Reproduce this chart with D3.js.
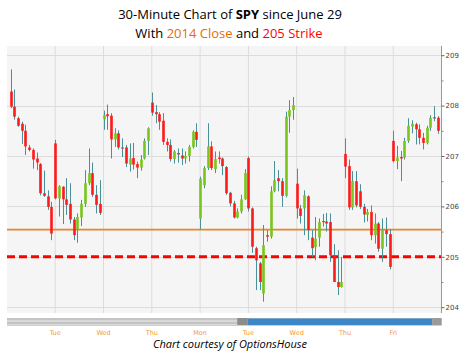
<!DOCTYPE html>
<html><head><meta charset="utf-8">
<script src="https://cdn.jsdelivr.net/npm/d3@7"></script>
<style>html,body{margin:0;padding:0;background:#fff;}svg{display:block;}</style>
</head><body>
<script>
// ---- data ----
const firstBar = 1; // Mon 10:00 bar (9:30 bar hidden at left edge)
const dayLabels = ["Tue","Wed","Thu","Mon","Tue","Wed","Thu","Fri"];
const yTicks = [204,205,206,207,208,209];
const close2014 = 205.54;
const strike = 205;
const opens = [
208.28,207.98,207.75,207.64,207.5,207.17,207.12,206.95,206.84,206.26,206.2,205.99,
207.25,206.16,206.39,206.14,206.05,205.74,205.55,205.78,206.05,206.46,206.66,206.23,206.05,
207.73,207.83,207.8,207.33,207.45,207.17,207.17,206.83,206.96,206.84,206.77,206.95,207.3,
208.06,207.87,207.83,207.7,207.28,207.22,206.94,207.06,207.01,206.95,207.0,207.18,207.48,
205.76,206.42,206.76,207.19,206.74,206.97,206.95,206.78,206.27,206.06,205.78,205.9,206.14,
206.96,205.96,205.17,204.87,204.27,205.43,205.4,206.3,206.56,206.5,206.21,207.78,207.91,
206.45,205.96,205.96,206.2,205.38,205.19,205.38,205.71,205.7,205.69,205.03,204.5,204.4,
207.04,206.8,205.98,206.5,206.3,205.99,205.83,205.89,205.43,205.66,205.16,205.53,205.45,
207.3,206.9,206.98,206.97,207.3,207.58,207.63,207.53,207.36,207.26,207.56,207.77,207.76];
const highs = [
208.72,208.32,207.78,207.68,207.62,207.22,207.15,207.07,206.86,206.71,206.32,206.09,
207.32,206.42,206.4,206.56,206.46,205.79,205.86,206.13,206.72,207.15,206.87,206.42,206.52,
207.9,208.02,207.85,207.55,207.51,207.35,207.22,207.25,207.26,206.89,207.02,207.35,207.57,
208.26,208.01,207.87,207.85,207.35,207.33,207.12,207.15,207.15,207.09,207.22,207.51,207.65,
206.59,206.8,207.65,207.29,207.09,207.09,206.97,206.8,206.29,206.11,205.96,206.23,206.74,
206.99,205.98,205.2,204.9,205.63,205.53,206.4,206.9,206.72,206.56,207.88,208.11,208.17,
206.75,206.03,206.32,206.22,205.53,205.79,205.76,205.85,205.87,205.86,205.25,205.13,205.0,
207.35,206.93,206.7,206.7,206.44,206.05,205.95,206.02,205.86,205.69,205.76,205.78,205.55,
207.5,207.2,207.1,207.36,207.75,207.71,207.66,207.63,207.46,207.6,207.81,207.99,207.79];
const lows = [
207.95,207.72,207.58,207.24,207.02,207.09,206.75,206.72,206.22,206.19,205.93,205.33,
206.14,205.8,205.65,205.83,205.66,205.33,205.28,205.61,205.99,206.42,206.19,205.86,205.83,
207.52,207.52,206.95,207.18,207.13,206.98,206.78,206.69,206.73,206.56,206.71,206.93,207.02,
207.8,207.65,207.52,207.22,207.09,206.89,206.85,206.87,206.82,206.85,206.89,207.15,207.18,
205.55,206.36,206.72,206.72,206.66,206.85,206.62,206.23,206.0,205.76,205.76,205.86,206.13,
205.9,205.08,204.34,204.34,204.11,205.3,205.36,206.28,206.3,205.99,206.18,207.46,207.72,
205.76,205.66,205.43,205.33,205.0,204.93,205.2,205.6,205.5,204.9,204.5,204.24,204.39,
206.56,205.93,205.93,205.98,205.95,205.68,205.7,205.33,205.26,205.1,204.9,205.2,204.75,
206.87,206.74,206.5,206.93,207.26,207.45,207.23,207.23,207.13,207.23,207.5,207.69,207.44];
const closes = [
207.98,207.78,207.6,207.5,207.19,207.12,206.93,206.87,206.26,206.21,205.99,205.46,
206.16,206.4,206.14,206.03,205.74,205.43,205.79,206.05,206.46,206.66,206.23,206.03,205.87,
207.81,207.79,207.33,207.45,207.17,207.15,206.85,206.95,206.83,206.77,206.93,207.3,207.55,
207.86,207.83,207.68,207.28,207.22,206.94,207.09,207.03,206.95,207.0,207.18,207.48,207.32,
206.55,206.76,207.19,206.76,206.94,206.94,206.8,206.26,206.06,205.78,205.9,206.14,206.66,
205.96,205.2,204.93,204.5,205.23,205.4,206.3,206.52,206.5,206.21,207.78,207.91,208.01,
205.96,205.81,206.22,205.53,205.17,205.36,205.69,205.69,205.66,205.03,204.5,204.4,204.5,
206.79,205.98,206.5,206.02,205.99,205.84,205.89,205.43,205.66,205.16,205.53,205.45,204.8,
206.9,206.97,206.95,207.3,207.6,207.64,207.53,207.36,207.26,207.56,207.76,207.75,207.5];

const bars = opens.map((o,i)=>({i:i+firstBar,o,h:highs[i],l:lows[i],c:closes[i]}));

// ---- layout ----
const W=464,H=357;
const plot={x0:7,x1:441.6,y0:46,y1:313};
const svg=d3.select("body").append("svg").attr("width",W).attr("height",H)
  .style("font-family","'Open Sans',sans-serif");

const x=d3.scaleLinear().domain([0,117]).range([6.9,441.6]);
const y=d3.scaleLinear().domain([204,209]).range([307.2,55.2]);

// title
const t=svg.append("text").attr("x",230).attr("y",19).attr("text-anchor","middle")
  .attr("font-size",13).attr("fill","#000");
t.append("tspan").text("30-Minute Chart of ");
t.append("tspan").attr("font-weight","bold").text("SPY");
t.append("tspan").text(" since June 29");
const t2=svg.append("text").attr("x",229).attr("y",38).attr("text-anchor","middle")
  .attr("font-size",13).attr("fill","#000");
t2.append("tspan").text("With ");
t2.append("tspan").attr("fill","#e46c0a").text("2014 Close");
t2.append("tspan").text(" and ");
t2.append("tspan").attr("fill","#ff0000").text("205 Strike");

// plot background
svg.append("rect").attr("x",plot.x0).attr("y",plot.y0).attr("width",plot.x1-plot.x0)
  .attr("height",plot.y1-plot.y0).attr("fill","#f5f5f5");

// grid
const gridDays=d3.range(1,9).map(k=>k*13);
svg.append("g").selectAll("line").data(gridDays).join("line")
  .attr("x1",d=>x(d)).attr("x2",d=>x(d)).attr("y1",plot.y0).attr("y2",plot.y1)
  .attr("stroke","#dcdcdc").attr("stroke-width",1);
svg.append("g").selectAll("line").data(yTicks).join("line")
  .attr("x1",plot.x0).attr("x2",plot.x1).attr("y1",d=>Math.round(y(d))+0.5).attr("y2",d=>Math.round(y(d))+0.5)
  .attr("stroke","#dcdcdc").attr("stroke-width",1);

// reference lines
svg.append("line").attr("x1",plot.x0).attr("x2",plot.x1).attr("y1",y(close2014)).attr("y2",y(close2014))
  .attr("stroke","#e8862a").attr("stroke-width",1.6);
svg.append("line").attr("x1",plot.x0).attr("x2",plot.x1).attr("y1",y(strike)).attr("y2",y(strike))
  .attr("stroke","#ff0000").attr("stroke-width",3).attr("stroke-dasharray","8,4");

// candles
const bw=2.6;
const g=svg.append("g");
g.selectAll("line.w").data(bars).join("line").attr("class","w")
  .attr("x1",d=>Math.round(x(d.i))+0.5).attr("x2",d=>Math.round(x(d.i))+0.5)
  .attr("y1",d=>y(d.h)).attr("y2",d=>y(d.l)).attr("stroke","#4a9197").attr("stroke-width",1);
g.selectAll("rect").data(bars).join("rect")
  .attr("x",d=>Math.round(x(d.i))+0.5-bw/2).attr("width",bw)
  .attr("y",d=>y(Math.max(d.o,d.c)))
  .attr("height",d=>Math.max(1.2,Math.abs(y(d.o)-y(d.c))))
  .attr("fill",d=>d.c>=d.o?"#78c51c":"#ff1a1a");

// right axis
svg.append("line").attr("x1",441.5).attr("x2",441.5).attr("y1",plot.y0).attr("y2",plot.y1)
  .attr("stroke","#999").attr("stroke-width",1);
const yAxis=d3.axisRight(y).tickValues(yTicks).tickSize(3).tickFormat(d3.format("d"));
const ax=svg.append("g").attr("transform","translate(441.5,0)").call(yAxis);
ax.select(".domain").remove();
ax.selectAll(".tick line").attr("stroke","#666");
ax.selectAll(".tick text").attr("font-size",7).attr("fill","#444").attr("x",4)
  .style("font-family","'DejaVu Sans',sans-serif");
const minor=d3.axisRight(y).tickValues(d3.range(204.5,209,1)).tickSize(2).tickFormat("");
const mx=svg.append("g").attr("transform","translate(441.5,0)").call(minor);
mx.select(".domain").remove();
mx.selectAll(".tick line").attr("stroke","#888");

// scrollbar
svg.append("rect").attr("x",plot.x0).attr("y",318).attr("width",plot.x1-plot.x0).attr("height",8).attr("fill","#c4c4c4");
svg.append("rect").attr("x",plot.x0).attr("y",320).attr("width",plot.x1-plot.x0).attr("height",2).attr("fill","#d8d8d8");
svg.append("rect").attr("x",plot.x0).attr("y",324).attr("width",plot.x1-plot.x0).attr("height",1.5).attr("fill","#dadada");
svg.append("rect").attr("x",x(65)-1).attr("y",318.5).attr("width",x(114.5)-x(65)+1).attr("height",6.5).attr("fill","#3d87c9");
svg.append("rect").attr("x",x(62)).attr("y",318).attr("width",x(65)-x(62)-1).attr("height",7).attr("fill","#8c8c8c");
svg.append("rect").attr("x",x(114.5)).attr("y",318).attr("width",plot.x1-x(114.5)).attr("height",7).attr("fill","#9a9a9a");

// day labels
svg.append("g").selectAll("text").data(gridDays).join("text")
  .attr("x",d=>x(d)).attr("y",335).attr("text-anchor","middle")
  .attr("font-size",6.5).attr("fill","#f39a33").style("font-family","'DejaVu Sans',sans-serif")
  .text((d,i)=>dayLabels[i]);

// footer
svg.append("text").attr("x",230).attr("y",348).attr("text-anchor","middle")
  .attr("font-size",11).attr("font-style","italic").attr("fill","#000").text("Chart courtesy of OptionsHouse");
</script>
</body></html>
